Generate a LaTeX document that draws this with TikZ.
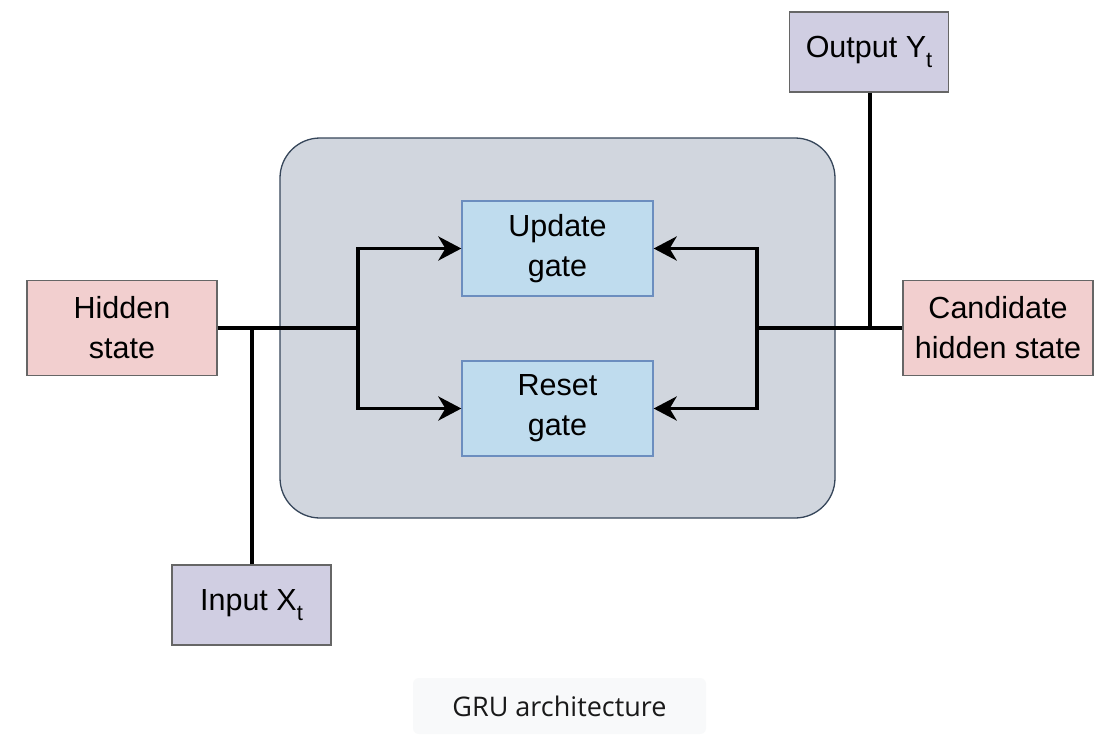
\documentclass[tikz,border=0pt]{standalone}
\usepackage{fontspec}
\setmainfont{Liberation Sans}
\newfontfamily\capfont{Open Sans}
\usetikzlibrary{arrows.meta}
\definecolor{pinkfill}{HTML}{F2CFCF}
\definecolor{lavfill}{HTML}{D0CEE2}
\definecolor{bigfill}{HTML}{D1D6DE}
\definecolor{bigdraw}{HTML}{36465A}
\definecolor{gatefill}{HTML}{BFDCEE}
\definecolor{gatedraw}{HTML}{6C8EBF}
\definecolor{boxdraw}{HTML}{666666}
\definecolor{capfill}{HTML}{F8F9FA}
\newcommand{\sbt}[1]{\raisebox{-0.32em}{\fontsize{22}{22}\selectfont #1}}
\tikzset{
  lbl/.style={font=\fontsize{30.5}{40}\selectfont, align=center, inner sep=0pt},
  statebox/.style={lbl, draw=boxdraw, line width=1.3pt, fill=pinkfill, minimum width=190pt, minimum height=95pt},
  iobox/.style={lbl, draw=boxdraw, line width=1.3pt, fill=lavfill, minimum width=159pt, minimum height=80pt},
  gatebox/.style={lbl, draw=gatedraw, line width=1.3pt, fill=gatefill, minimum width=191pt, minimum height=95pt},
  wire/.style={line width=3.8pt, black},
  arr/.style={wire, -{Stealth[length=23pt, width=24pt, inset=7pt]}},
}
\begin{document}
\begin{tikzpicture}[x=1pt, y=-1pt]
\useasboundingbox (0,0) rectangle (1116,734);
\fill[white] (0,0) rectangle (1116,734);
\node[draw=bigdraw, line width=1.3pt, fill=bigfill, rounded corners=40pt, minimum width=555pt, minimum height=380pt, inner sep=0pt] (core) at (557.5,328) {};
\node[statebox] (hidden) at (122,328) {Hidden\\state};
\node[statebox] (cand) at (998,328) {Candidate\\hidden state};
\node[iobox] (out) at (869,52) {Output Y\sbt{t}};
\node[iobox] (in) at (251.5,605) {Input X\sbt{t}};
\node[gatebox] (upd) at (557.5,248.5) {Update\\gate};
\node[gatebox] (rst) at (557.5,408.5) {Reset\\gate};
\node[fill=capfill, rounded corners=6pt, minimum width=293pt, minimum height=56pt, inner sep=0pt, font=\capfont\fontsize{27}{32}\selectfont, text=black!90] (cap) at (559.5,706) {GRU architecture};
\coordinate (lsplit) at (358,328);
\coordinate (rsplit) at (757,328);
\coordinate (injoin) at (252,328);
\coordinate (outjoin) at (870,328);
\draw[wire] (hidden.east) -- (lsplit);
\draw[wire] (in.north -| injoin) -- (injoin);
\draw[arr] (lsplit) |- (upd.west);
\draw[arr] (lsplit) |- (rst.west);
\draw[wire] (cand.west) -- (rsplit);
\draw[wire] (out.south -| outjoin) -- (outjoin);
\draw[arr] (rsplit) |- (upd.east);
\draw[arr] (rsplit) |- (rst.east);
\end{tikzpicture}
\end{document}
